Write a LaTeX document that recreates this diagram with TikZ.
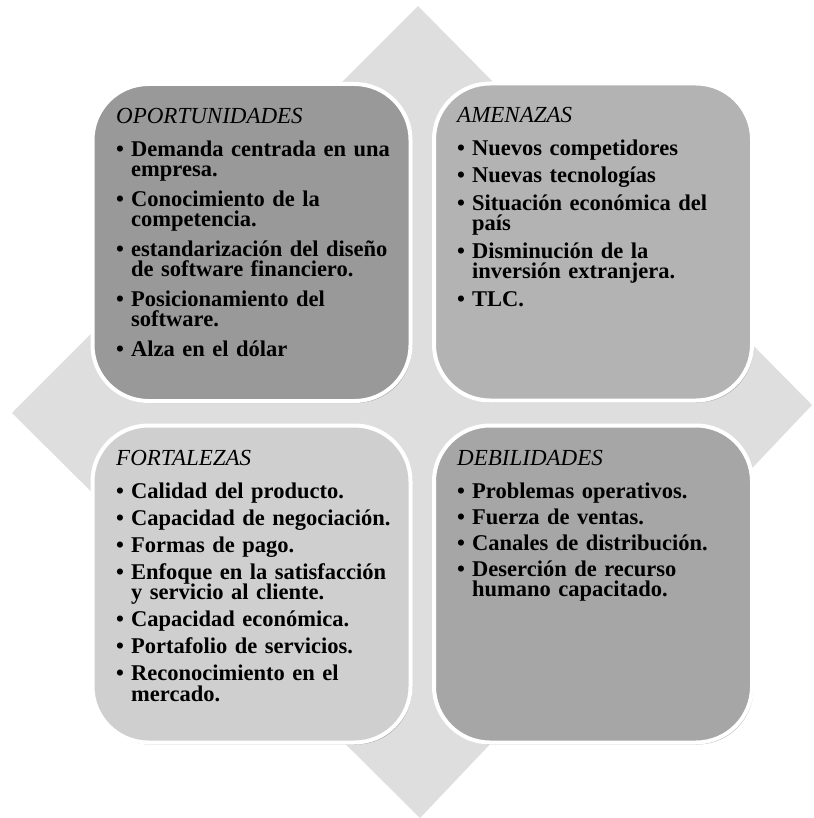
\documentclass[tikz,border=0pt]{standalone}
\usepackage{fontspec}
\setmainfont{Liberation Serif}[WordSpace=0.8]
\usetikzlibrary{shadows}
\definecolor{diam}{RGB}{222,222,222}
\definecolor{ctl}{RGB}{153,153,153}
\definecolor{ctr}{RGB}{179,179,179}
\definecolor{cbl}{RGB}{207,207,207}
\definecolor{cbr}{RGB}{166,166,166}
\newcommand\itm[1]{\par\hangindent=15pt\hangafter=1\noindent\makebox[15pt][l]{•}#1}
\newcommand\swotbody[3]{\lineskiplimit=-30pt\lineskip=0pt\setlength\parskip{#1}\noindent\rule{0pt}{16pt}{\itshape\mdseries\fontsize{23}{20.5}\selectfont #2}\par\vspace{\dimexpr 33pt-20.5pt-#1\relax}#3\par}
\begin{document}
\begin{tikzpicture}[x=1pt,y=-1pt,
  box/.style={rounded corners=56pt, draw=white, line width=4pt, minimum width=318pt, minimum height=317pt, inner sep=0pt,
    drop shadow={shadow xshift=1.5pt, shadow yshift=-2pt, fill=black, opacity=0.3}},
  txt/.style={anchor=north west, inner sep=0pt, text width=290pt, align=left, font=\fontsize{22.5}{20.5}\selectfont\bfseries}]
\useasboundingbox (0,0) rectangle (813,818);
\fill[diam] (418,6) -- (812,405) -- (420,818) -- (12,413) -- cycle;
\node[box, fill=ctl] (tl) at (251.5,242.5) {};
\node[box, fill=ctr] (tr) at (593,242) {};
\node[box, fill=cbl] (bl) at (251.5,584) {};
\node[box, fill=cbr] (br) at (593,584) {};
\node[txt] (tlt) at (116,107) {\swotbody{9pt}{OPORTUNIDADES}{%
\itm{Demanda centrada en una\newline empresa.}%
\itm{Conocimiento de la\newline competencia.}%
\itm{estandarización del diseño\newline de software financiero.}%
\itm{Posicionamiento del\newline software.}%
\itm{Alza en el dólar}}};
\node[txt] (trt) at (457,106) {\swotbody{7pt}{AMENAZAS}{%
\itm{Nuevos competidores}%
\itm{Nuevas tecnologías}%
\itm{Situación económica del\newline país}%
\itm{Disminución de la\newline inversión extranjera.}%
\itm{TLC.}}};
\node[txt] (blt) at (116,449) {\swotbody{6.5pt}{FORTALEZAS}{%
\itm{Calidad del producto.}%
\itm{Capacidad de negociación.}%
\itm{Formas de pago.}%
\itm{Enfoque en la satisfacción\newline y servicio al cliente.}%
\itm{Capacidad económica.}%
\itm{Portafolio de servicios.}%
\itm{Reconocimiento en el\newline mercado.}}};
\node[txt] (brt) at (457,449) {\swotbody{5.5pt}{DEBILIDADES}{%
\itm{Problemas operativos.}%
\itm{Fuerza de ventas.}%
\itm{Canales de distribución.}%
\itm{Deserción de recurso\newline humano capacitado.}}};
\end{tikzpicture}
\end{document}
